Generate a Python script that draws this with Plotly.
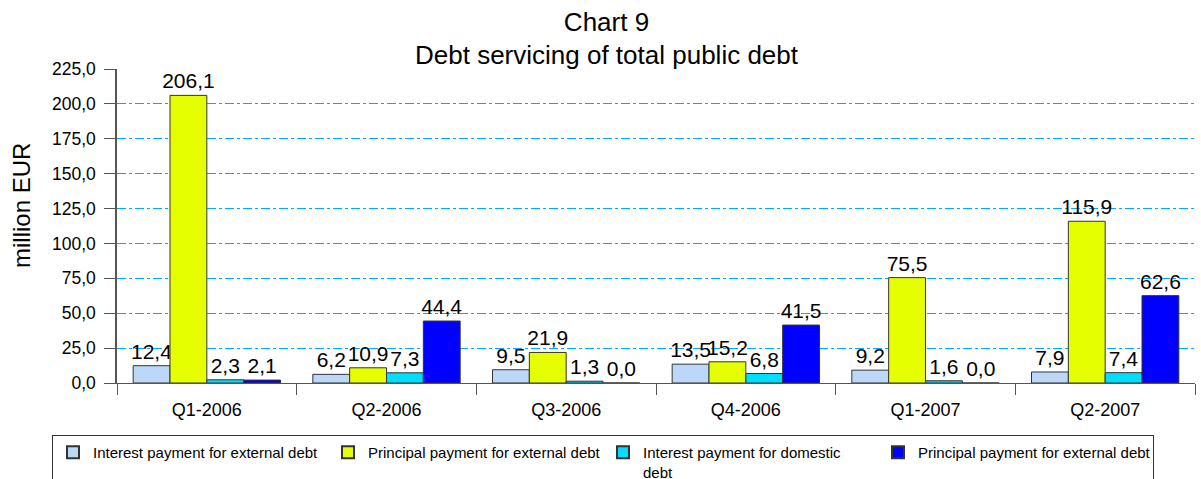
import plotly.graph_objects as go

categories = ["Q1-2006", "Q2-2006", "Q3-2006", "Q4-2006", "Q1-2007", "Q2-2007"]
interest_external = [12.4, 6.2, 9.5, 13.5, 9.2, 7.9]
principal_external = [206.1, 10.9, 21.9, 15.2, 75.5, 115.9]
interest_domestic = [2.3, 7.3, 1.3, 6.8, 1.6, 7.4]
principal_domestic = [2.1, 44.4, 0.0, 41.5, 0.0, 62.6]

series_names = [
    "Interest payment for external debt",
    "Principal payment for external debt",
    "Interest payment for domestic<br>debt",
    "Principal payment for external debt",
]
series_values = [interest_external, principal_external, interest_domestic, principal_domestic]
colors = ["#BCD8F8", "#E6FF00", "#00DDFF", "#0000FF"]

FONT = "Liberation Sans, Arial, sans-serif"

fig = go.Figure()
for name, vals, col in zip(series_names, series_values, colors):
    fig.add_trace(go.Bar(
        x=categories, y=vals, name=name,
        marker=dict(color=col, line=dict(color="#333333", width=1)),
        texttemplate="%{y:.1f}", textposition="outside",
        textfont=dict(family=FONT, size=21, color="#000000"),
        constraintext="none", cliponaxis=False,
    ))

PW = 1201 - 117 - 6
PH = 383 - 69

fig.update_layout(
    width=1201, height=479,
    separators=", ",
    barmode="group", bargap=0.18, bargroupgap=0,
    plot_bgcolor="white", paper_bgcolor="white",
    margin=dict(l=117, r=6, t=69, b=96, autoexpand=False),
    font=dict(family=FONT, color="#000000"),
    title=dict(
        text="Chart 9<br>Debt servicing of total public debt",
        x=0.505, xanchor="center", y=0.936, yanchor="top",
        font=dict(size=26, family=FONT),
    ),
    xaxis=dict(
        showline=True, linecolor="#555555", linewidth=1,
        ticks="outside", tickson="boundaries", ticklen=11, tickcolor="#555555",
        tickfont=dict(size=18, family=FONT), ticklabelstandoff=10,
        showgrid=False, automargin=False,
    ),
    yaxis=dict(
        range=[0, 225], dtick=25, tickformat=".1f",
        showline=True, linecolor="#555555", linewidth=1.5,
        ticks="outside", ticklen=11, tickcolor="#555555",
        tickfont=dict(size=17.5, family=FONT), ticklabelstandoff=5,
        showgrid=True, gridcolor="#00AAFF", griddash="dashdot", gridwidth=1,
        zeroline=False, automargin=False,
    ),
    annotations=[dict(
        text="million EUR", textangle=-90, showarrow=False,
        xref="paper", yref="paper", xanchor="center", yanchor="middle",
        x=(21 - 117) / PW, y=(383 - 206) / PH,
        font=dict(size=24, family=FONT, color="#000000"),
    )],
    legend=dict(
        orientation="h", xref="paper", yref="paper",
        x=(52 - 117) / PW, xanchor="left", y=(383 - 435) / PH, yanchor="top",
        entrywidth=230, entrywidthmode="pixels", itemwidth=30,
        bordercolor="#333333", borderwidth=1, valign="top",
        font=dict(size=15, family=FONT),
        itemsizing="constant", tracegroupgap=0,
    ),
)

fig.write_html("out.html", config={"displayModeBar": False},
               post_script="document.body.style.margin='0';")
